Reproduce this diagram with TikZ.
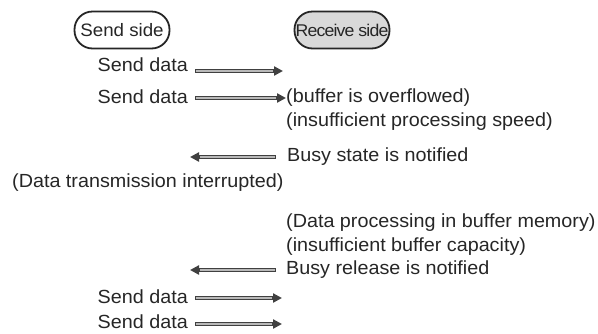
\documentclass[tikz,border=0pt]{standalone}
\usepackage{fontspec}
\setmainfont{Liberation Sans}[FakeStretch=1.04]
\usetikzlibrary{arrows.meta}
\tikzset{
  lbl/.style={inner sep=0pt, text=black!85, font=\fontsize{19}{21}\selectfont},
  side/.style={draw=black!85, line width=1.8pt, rounded corners=18pt, minimum width=95pt, minimum height=37pt, inner sep=0pt, text=black!85},
  arr/.style={line width=3.4pt, draw=black!75, -{Triangle[length=9pt,width=9pt]},
    postaction={draw=gray!55, line width=1.1pt, -, shorten >=10pt, shorten <=1pt}},
}
\begin{document}
\begin{tikzpicture}[x=1pt,y=-1pt]
\useasboundingbox (0,0) rectangle (598,333);
\node[side, fill=white, font=\fontsize{18}{20}\selectfont] (sendside) at (122,30) {Send side};
\node[side, fill=gray!30, font=\fontsize{17}{19}\selectfont\addfontfeatures{LetterSpace=-5}] (recvside) at (342,30) {Receive side};

\node[lbl, anchor=east] (sd1) at (188,65) {Send data};
\coordinate (a1s) at (195,71); \coordinate (a1e) at (283,71);
\draw[arr] (a1s) -- (a1e);

\node[lbl, anchor=east] (sd2) at (188,97) {Send data};
\node[lbl, anchor=west] (ovf) at (286,98) {(buffer is overflowed)};
\coordinate (a2s) at (195,98);
\draw[arr] (a2s) -- (ovf.west);
\node[lbl, anchor=west] (speed) at (286,122) {(insufficient processing speed)};

\node[lbl, anchor=west] (busy) at (287,157) {Busy state is notified};
\coordinate (a3e) at (190,157);
\draw[arr] ([xshift=-11pt]busy.west) -- (a3e);
\node[lbl, anchor=west] (intr) at (12,183) {(Data transmission interrupted)};

\node[lbl, anchor=west] (proc) at (286,223) {(Data processing in buffer memory)};
\node[lbl, anchor=west] (cap) at (286,247) {(insufficient buffer capacity)};

\node[lbl, anchor=west] (rel) at (286,270) {Busy release is notified};
\coordinate (a4e) at (190,270);
\draw[arr] ([xshift=-10pt]rel.west) -- (a4e);

\node[lbl, anchor=east] (sd3) at (188,297) {Send data};
\coordinate (a5s) at (195,298); \coordinate (a5e) at (282,298);
\draw[arr] (a5s) -- (a5e);

\node[lbl, anchor=east] (sd4) at (188,322) {Send data};
\coordinate (a6s) at (195,324); \coordinate (a6e) at (282,324);
\draw[arr] (a6s) -- (a6e);
\end{tikzpicture}
\end{document}
